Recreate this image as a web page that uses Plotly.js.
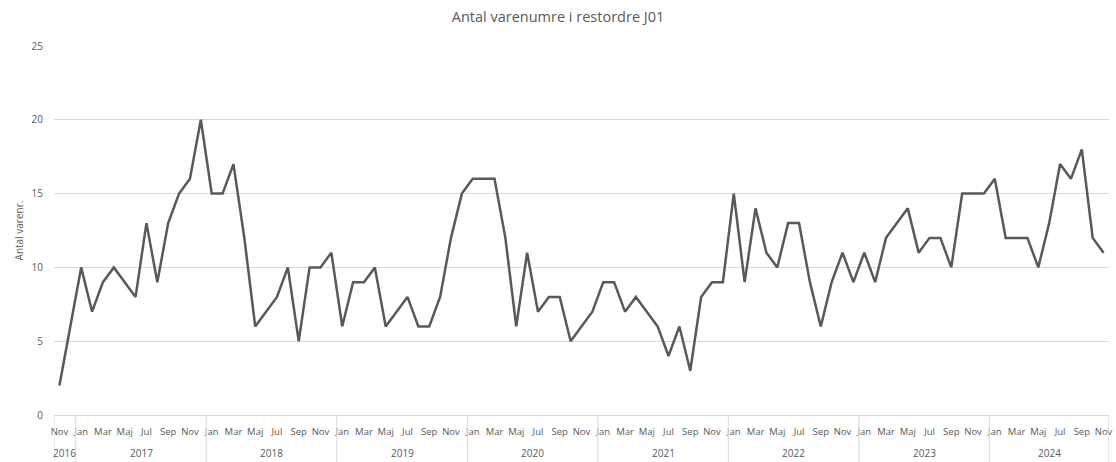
<!DOCTYPE html>
<html>
<head>
<meta charset="utf-8">
<script src="https://cdn.plot.ly/plotly-3.0.1.min.js"></script>
<style>html,body{margin:0;padding:0;background:#fff;}#chart{width:1116px;height:462px;}</style>
</head>
<body>
<div id="chart"></div>
<script>
// Data: monthly counts Nov 2016 .. Nov 2024
const years = ["2016","2017","2018","2019","2020","2021","2022","2023","2024"];
const monthNames = ["Jan","Feb","Mar","Apr","Maj","Jun","Jul","Aug","Sep","Okt","Nov","Dec"];
const values2016 = [2, 6]; // Nov, Dec
const values2017 = [10, 7, 9, 10, 9, 8, 13, 9, 13, 15, 16, 20];
const values2018 = [15, 15, 17, 12, 6, 7, 8, 10, 5, 10, 10, 11];
const values2019 = [6, 9, 9, 10, 6, 7, 8, 6, 6, 8, 12, 15];
const values2020 = [16, 16, 16, 12, 6, 11, 7, 8, 8, 5, 6, 7];
const values2021 = [9, 9, 7, 8, 7, 6, 4, 6, 3, 8, 9, 9];
const values2022 = [15, 9, 14, 11, 10, 13, 13, 9, 6, 9, 11, 9];
const values2023 = [11, 9, 12, 13, 14, 11, 12, 12, 10, 15, 15, 15];
const values2024 = [16, 12, 12, 12, 10, 13, 17, 16, 18, 12, 11]; // Jan..Nov

const yearSeries = [values2016, values2017, values2018, values2019, values2020, values2021, values2022, values2023, values2024];
const yearStartMonth = [10, 0, 0, 0, 0, 0, 0, 0, 0]; // 2016 starts in Nov

// Build category list
const xs = [], ys = [], monthLabels = [], groups = [];
let idx = 0;
yearSeries.forEach((vals, yi) => {
  const start = idx;
  vals.forEach((v, k) => {
    xs.push(idx); ys.push(v);
    monthLabels.push(monthNames[yearStartMonth[yi] + k]);
    idx++;
  });
  groups.push({year: years[yi], start: start, end: idx - 1});
});
const n = xs.length;

const tickvals = [], ticktext = [];
for (let i = 0; i < n; i += 2) { tickvals.push(i); ticktext.push(monthLabels[i]); }

const textColor = "#595959";
const font = "Open Sans, Liberation Sans, sans-serif";

const plotH = 462 - 46 - 47;
const below = -47 / plotH;

const shapes = [];
const annotations = [];
// group dividers
const dividers = [-0.5];
groups.forEach(g => dividers.push(g.end + 0.5));
dividers.forEach(d => {
  shapes.push({type: "line", xref: "x", yref: "paper", x0: d, x1: d, y0: 0, y1: below,
    line: {color: "#d9d9d9", width: 1}});
});
groups.forEach(g => {
  annotations.push({xref: "x", yref: "paper", x: (g.start + g.end) / 2, y: -38 / plotH,
    text: g.year, showarrow: false, yanchor: "middle", xanchor: "center",
    font: {family: font, size: 10, color: textColor}});
});

const trace = {
  x: xs, y: ys, type: "scatter", mode: "lines",
  line: {color: "#595959", width: 2.5, shape: "linear"},
  hoverinfo: "y"
};

const layout = {
  width: 1116, height: 462,
  margin: {l: 54, r: 7, t: 46, b: 47, pad: 0},
  paper_bgcolor: "#ffffff", plot_bgcolor: "#ffffff",
  showlegend: false,
  title: {text: "Antal varenumre i restordre J01", x: 0.5, xanchor: "center", y: 1 - 17 / 462, yanchor: "middle",
    font: {family: font, size: 14.5, color: textColor}},
  xaxis: {
    range: [-0.5, n - 0.5], tickmode: "array", tickvals: tickvals, ticktext: ticktext,
    tickangle: 0, showgrid: false, zeroline: false, showline: true, linecolor: "#d9d9d9", linewidth: 1,
    ticks: "", ticklabelstandoff: 8,
    tickfont: {family: font, size: 9.5, color: textColor}, fixedrange: true
  },
  yaxis: {
    range: [0, 25], tickvals: [0, 5, 10, 15, 20, 25], showgrid: true, gridcolor: "#d9d9d9", gridwidth: 1,
    zeroline: false, showline: false, ticks: "", ticklabelstandoff: 10,
    tickfont: {family: font, size: 10, color: textColor},
    title: {text: "Antal varenr.", standoff: 6, font: {family: font, size: 10, color: textColor}},
    fixedrange: true
  },
  shapes: shapes,
  annotations: annotations
};

Plotly.newPlot("chart", [trace], layout, {displayModeBar: false, staticPlot: true});
</script>
</body>
</html>
